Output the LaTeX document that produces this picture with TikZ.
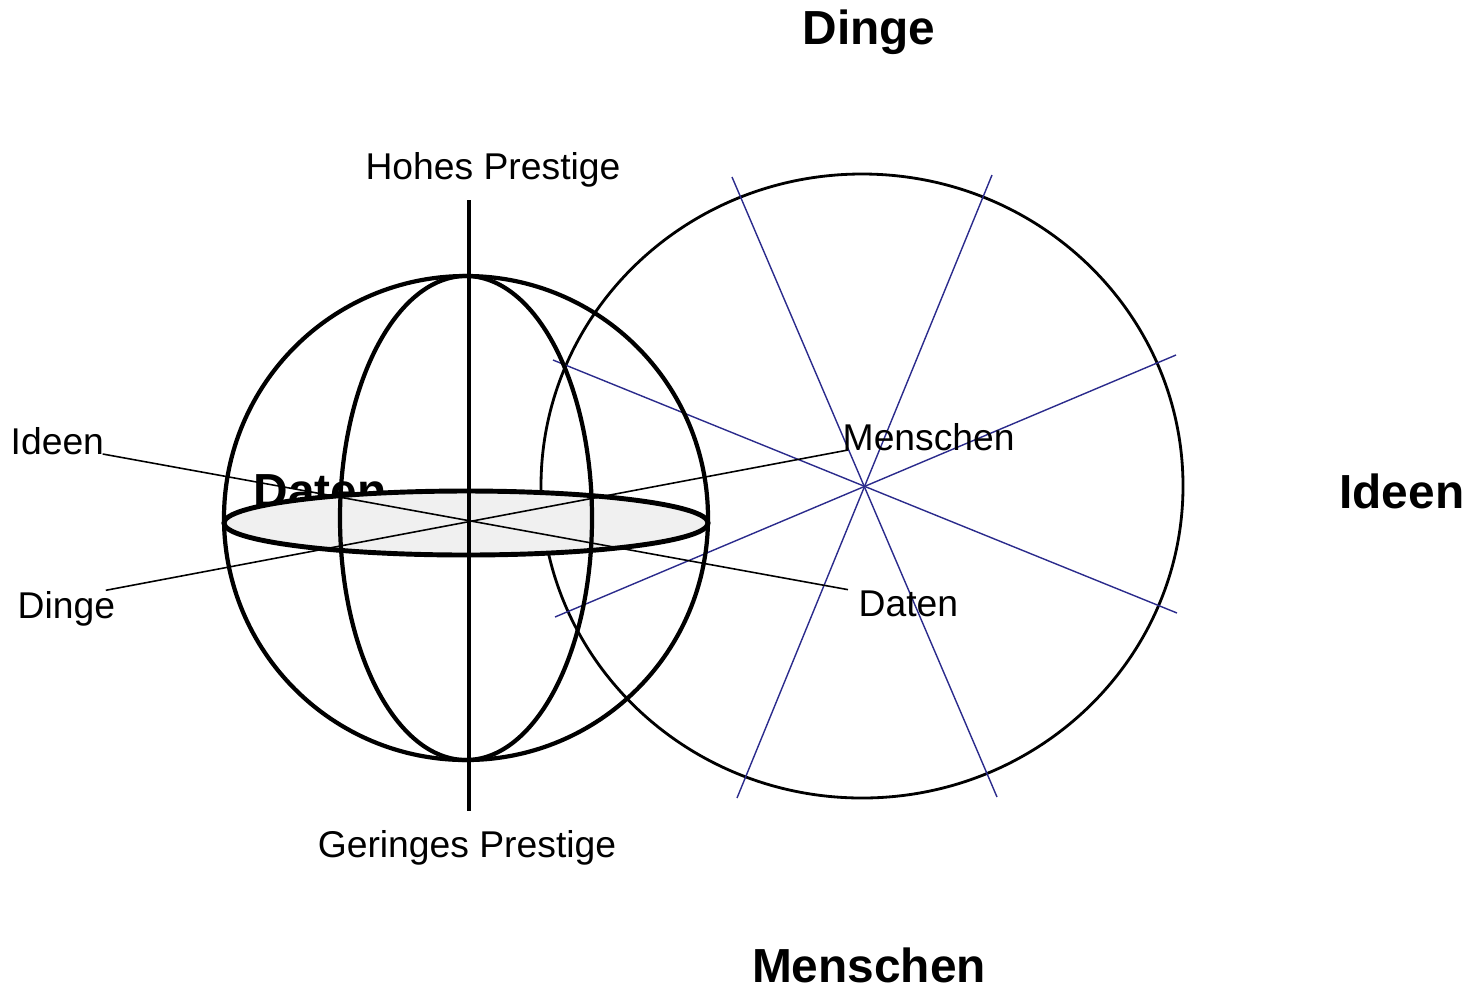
\documentclass[tikz,border=0pt]{standalone}
\usepackage{fontspec}
\setmainfont{Liberation Sans}
\usepackage{tikz}
\usetikzlibrary{positioning}
\definecolor{spokeblue}{RGB}{43,43,140}

\begin{document}
\begin{tikzpicture}[
                    x=0.01cm, y=-0.01cm,
                    lbl/.style={inner sep=0pt, font=\fontsize{10.6}{12}\selectfont},
                    head/.style={inner sep=0pt, font=\fontsize{13.6}{15}\selectfont\bfseries},
                    globe/.style={line width=1.2pt},
                    wheel/.style={line width=0.8pt},
                    spoke/.style={line width=0.4pt, spokeblue},
                    pointer/.style={line width=0.45pt}
                ]
                \useasboundingbox (0,0) rectangle (1470,987);
                \coordinate (g) at (466,518);
                \coordinate (w) at (862,486);

                % right wheel with its spokes
                \draw[wheel] (w) ellipse [x radius=321, y radius=312];
                \foreach \xa/\ya/\xb/\yb in {732/177/997/797, 992/175/737/798, 553/360/1177/613, 555/617/1176/355}{
                        \draw[spoke] (\xa,\ya) -- (\xb,\yb);
                    }

                \node[head, anchor=base] (hdaten) at (320,507) {Daten};

                % globe
                \draw[globe, line width=1.4pt, fill=black!6] (466,523) ellipse [x radius=242, y radius=32];
                \draw[globe] (g) circle [radius=242];
                \draw[globe] (g) ellipse [x radius=126, y radius=242];
                \coordinate (top) at (469,200);
                \coordinate (bot) at (469,811);
                \draw[globe] (top) -- (bot);

                \node[lbl, anchor=base] (hoch) at (493,179) {Hohes Prestige};
                \node[lbl, anchor=base] (tief) at (467,857) {Geringes Prestige};
                \node[lbl, anchor=base west] (lideen) at (10,454) {Ideen};
                \node[lbl, anchor=base west] (ldinge) at (17,618) {Dinge};
                \node[lbl, anchor=base west] (rmensch) at (842,450) {Menschen};
                \node[lbl, anchor=base west] (rdaten) at (858,616) {Daten};

                \draw[pointer] ([xshift=-0.02cm]lideen.base east) -- ([xshift=-0.1cm]rdaten.north west);
                \draw[pointer] ([xshift=-0.1cm]ldinge.north east) -- ([xshift=0.06cm]rmensch.base west);

                \node[head, anchor=base] (hdinge) at (869,44) {Dinge};
                \node[head, anchor=base east] (hideen) at (1465,508) {Ideen};
                \node[head, anchor=base] (hmensch) at (869,982) {Menschen};
            \end{tikzpicture}
\end{document}
